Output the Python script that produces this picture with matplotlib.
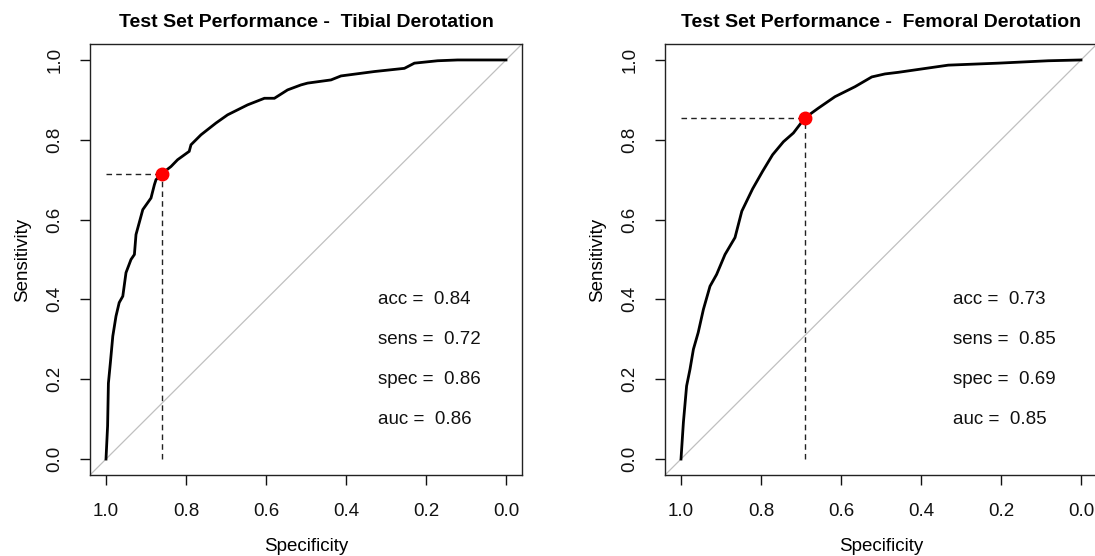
import matplotlib
matplotlib.use("Agg")
import matplotlib.pyplot as plt

# ---- data ----
tib_spec = [1.0, 0.996, 0.994, 0.989, 0.983, 0.975, 0.967, 0.958, 0.95, 0.9375, 0.929, 0.925,
            0.908, 0.8875, 0.879, 0.875, 0.858, 0.8375, 0.821, 0.792, 0.7875, 0.7625, 0.725,
            0.696, 0.671, 0.646, 0.604, 0.579, 0.546, 0.5125, 0.496, 0.4375, 0.4125, 0.329,
            0.254, 0.229, 0.171, 0.121, 0.0]
tib_sens = [0.0, 0.083, 0.19, 0.242, 0.308, 0.358, 0.392, 0.408, 0.467, 0.5, 0.5125, 0.5625,
            0.625, 0.654, 0.6875, 0.70, 0.717, 0.733, 0.75, 0.771, 0.7875, 0.8125, 0.842,
            0.8625, 0.875, 0.8875, 0.904, 0.904, 0.925, 0.9375, 0.942, 0.95, 0.96, 0.971,
            0.979, 0.992, 0.998, 1.0, 1.0]
fem_spec = [1.0, 0.994, 0.986, 0.9775, 0.969, 0.957, 0.944, 0.9275, 0.911, 0.89, 0.865, 0.848,
            0.821, 0.796, 0.771, 0.744, 0.719, 0.69, 0.657, 0.615, 0.565, 0.523, 0.49, 0.457,
            0.332, 0.207, 0.082, 0.0]
fem_sens = [0.0, 0.092, 0.183, 0.225, 0.275, 0.317, 0.375, 0.433, 0.4625, 0.5125, 0.555, 0.621,
            0.677, 0.721, 0.7625, 0.795, 0.817, 0.855, 0.879, 0.908, 0.933, 0.9575, 0.965,
            0.969, 0.987, 0.992, 0.998, 1.0]

titles = ["Test Set Performance -  Tibial Derotation", "Test Set Performance -  Femoral Derotation"]
opt_spec = [0.86, 0.69]
opt_sens = [0.715, 0.855]
metric_names = ["acc", "sens", "spec", "auc"]
tib_metrics = ["0.84", "0.72", "0.86", "0.86"]
fem_metrics = ["0.73", "0.85", "0.69", "0.85"]

ticks = [1.0, 0.8, 0.6, 0.4, 0.2, 0.0]
tick_labels = ["1.0", "0.8", "0.6", "0.4", "0.2", "0.0"]
yticks = [0.0, 0.2, 0.4, 0.6, 0.8, 1.0]
ytick_labels = ["0.0", "0.2", "0.4", "0.6", "0.8", "1.0"]

plt.rcParams['font.family'] = ['Liberation Sans', 'DejaVu Sans']

fig = plt.figure(figsize=(10.95, 5.56), dpi=100)
W, H = 1095, 556
ax_l = fig.add_axes([90 / W, (556 - 475) / H, 432 / W, 431 / H])
ax_r = fig.add_axes([665 / W, (556 - 475) / H, 432 / W, 431 / H])

FS = 13.5
panels = [(ax_l, tib_spec, tib_sens, tib_metrics), (ax_r, fem_spec, fem_sens, fem_metrics)]
for i, (ax, sp, se, met) in enumerate(panels):
    ax.set_xlim(1.04, -0.04)
    ax.set_ylim(-0.04, 1.04)
    # diagonal reference
    ax.plot([1.04, -0.04], [-0.04, 1.04], color="#c0c0c0", lw=0.9, zorder=1)
    # roc curve
    ax.plot(sp, se, color="black", lw=2.0, zorder=3, solid_joinstyle="miter")
    # threshold dashed lines
    ax.plot([opt_spec[i], opt_spec[i]], [0.0, opt_sens[i]], color="#222222", lw=1.0,
            ls=(0, (4, 3)), zorder=2)
    ax.plot([1.0, opt_spec[i]], [opt_sens[i], opt_sens[i]], color="#222222", lw=1.0,
            ls=(0, (4, 3)), zorder=2)
    ax.plot([opt_spec[i]], [opt_sens[i]], "o", color="red", ms=9, zorder=4)
    for k, (name, val) in enumerate(zip(metric_names, met)):
        ax.text(0.32, 0.40 - 0.10 * k, f"{name} =  {val}", ha="left", va="center",
                fontsize=FS, color="#111111")
    ax.set_xticks(ticks)
    ax.set_xticklabels(tick_labels)
    ax.set_yticks(yticks)
    ax.set_yticklabels(ytick_labels, rotation=90, va="center")
    ax.tick_params(axis="x", length=7, width=1, labelsize=FS, pad=13, colors="#111111")
    ax.tick_params(axis="y", length=7, width=1, labelsize=FS, pad=12, colors="#111111")
    for s in ax.spines.values():
        s.set_linewidth(1.0)
        s.set_color("#222222")
    ax.set_xlabel("Specificity", fontsize=FS, labelpad=13)
    ax.set_ylabel("Sensitivity", fontsize=FS, labelpad=11.5)
    ax.set_title(titles[i], fontsize=14, fontweight="bold", pad=12.5)

fig.savefig("out.png", dpi=100)
